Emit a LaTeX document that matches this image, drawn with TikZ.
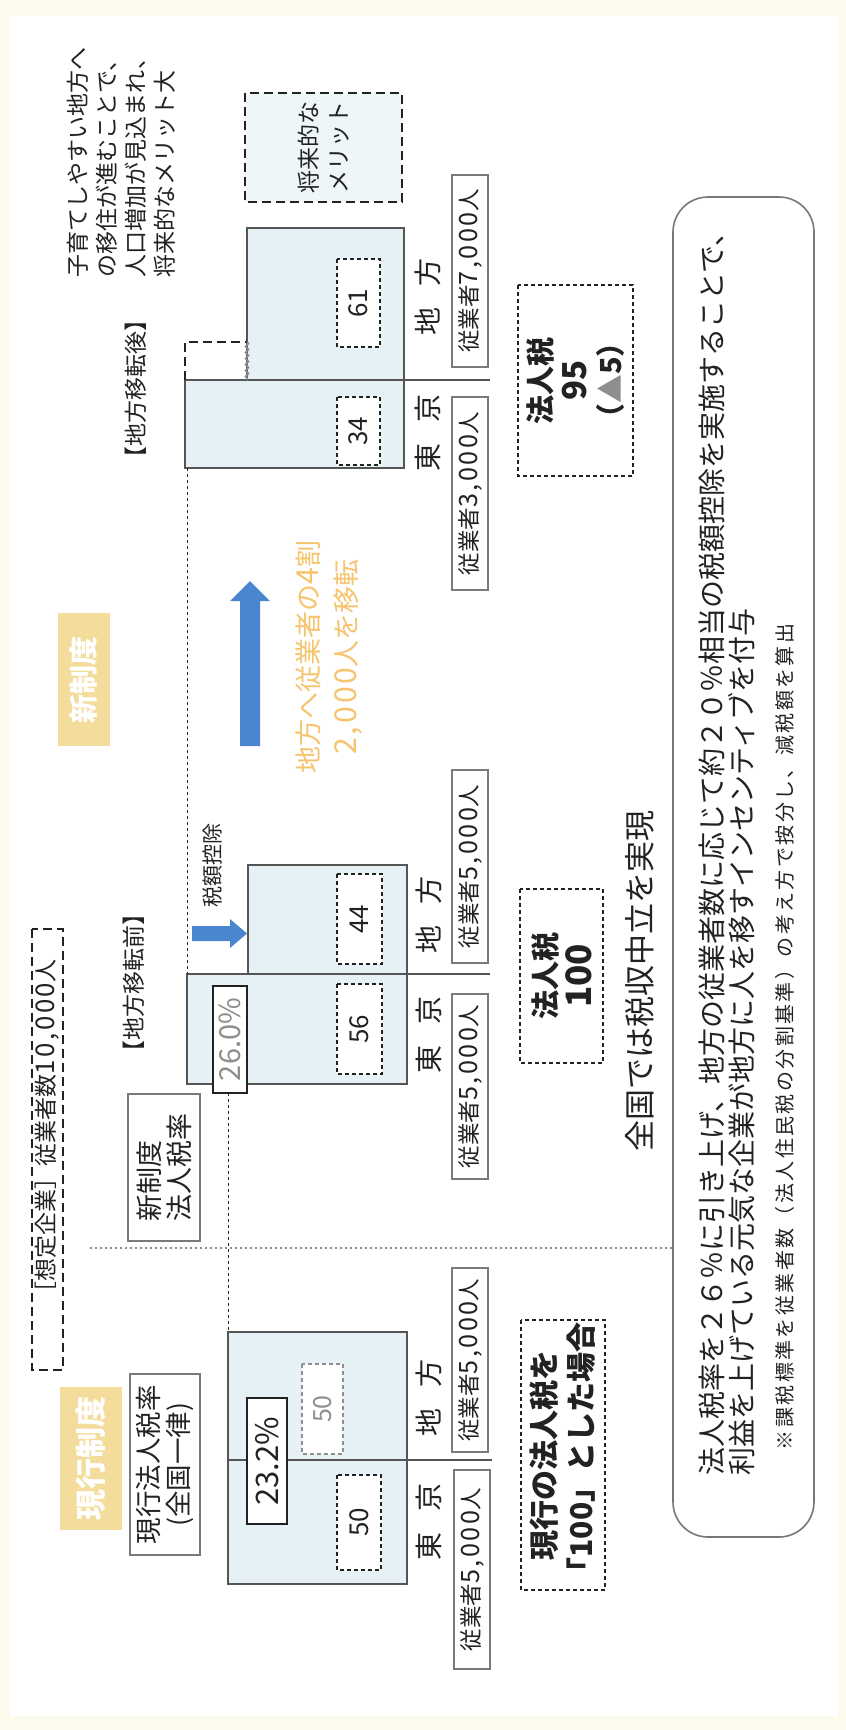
\documentclass[tikz,border=0pt]{standalone}
\usepackage{fontspec}
\setmainfont{Noto Sans CJK JP}
\usetikzlibrary{decorations.pathmorphing}
\definecolor{pagecream}{HTML}{FCFAEC}
\definecolor{beige}{HTML}{F4DC9C}
\definecolor{ink}{HTML}{222222}
\definecolor{barfill}{HTML}{E5F1F4}
\definecolor{barline}{HTML}{555555}
\definecolor{boxgray}{HTML}{7A7A7A}
\definecolor{lightblue}{HTML}{EEF6F8}
\definecolor{arrowblue}{HTML}{4A86CF}
\definecolor{orangeT}{HTML}{F6C46E}
\definecolor{grayT}{HTML}{8E8E8E}
\definecolor{roundgray}{HTML}{777777}
\newcommand\myfs[1]{\fontsize{#1pt}{#1pt}\selectfont}
\newcommand\dg[1]{{\addfontfeatures{LetterSpace=10,Scale=1.12}#1}}
\begin{document}
\begin{tikzpicture}[x=1pt,y=-1pt,
  rt/.style={rotate=90, inner sep=0pt, outer sep=0pt, text=ink},
  beigebox/.style={rt, fill=beige, text=white},
  box/.style={rt, draw=boxgray, line width=1.5pt, fill=white},
  darkbox/.style={rt, draw=ink, line width=2pt, fill=white},
  ebox/.style={box, minimum height=36pt, font=\myfs{22.5}},
  thindash/.style={rt, draw=ink, line width=1.3pt, dash pattern=on 4pt off 3pt},
  thickdash/.style={rt, draw=ink, line width=2.4pt, dash pattern=on 9pt off 5pt},
  vbox/.style={thindash, fill=white, font=\myfs{26}},
  bar/.style={draw=barline, line width=2pt, fill=barfill, inner sep=0pt, outer sep=0pt},
  lbl/.style={rt, font=\myfs{28}},
  divider/.style={draw=barline, line width=1.5pt},
  connline/.style={draw=ink, line width=1pt, dash pattern=on 3pt off 3pt},
  dotline/.style={draw=grayT, line width=1.6pt, dash pattern=on 2pt off 3pt},
  wavy/.style={draw=grayT, line width=1.5pt, decorate, decoration={zigzag, segment length=6pt, amplitude=1.5pt}}
]
\useasboundingbox (0,0) rectangle (846,1730);
\fill[pagecream] (0,0) rectangle (846,1730);
\fill[white] (10,16) rectangle (838,1716);

% ---------- titles and left column ----------
\node[beigebox, minimum width=143pt, minimum height=62pt, font=\bfseries\myfs{31}] (curTitle) at (91,1458.5) {現行制度};
\node[beigebox, minimum width=133pt, minimum height=52pt, font=\bfseries\myfs{29}] (newTitle) at (84,679.5) {新制度};

\node[thickdash, minimum width=441pt, minimum height=31pt] (assume) at (47.5,1149.5) {};
\node[rt, font=\myfs{23}] (assumeTxt) at (47.5,1132) {［想定企業］従業者数\dg{10,000}人};

\node[box, minimum width=181pt, minimum height=70pt, align=center, font=\fontsize{26.5pt}{30pt}\selectfont] (curRate) at (165,1464.5) {現行法人税率\\(全国一律)};
\node[box, minimum width=147pt, minimum height=72pt, align=left, font=\fontsize{27pt}{30pt}\selectfont] (newRate) at (164,1167.5) {新制度\\法人税率};

\node[rt, font=\myfs{23}] (beforeTtl) at (134,983) {【地方移転前】};
\node[rt, font=\myfs{23}] (afterTtl) at (136,389) {【地方移転後】};

% ---------- current system ----------
\node[bar, minimum width=179pt, minimum height=128pt] (curL) at (317.5,1396) {};
\node[bar, minimum width=179pt, minimum height=124pt] (curT) at (317.5,1522) {};
\draw[divider] (curL.south west) -- ([xshift=85pt]curL.south east);
\node[darkbox, minimum width=126pt, minimum height=40pt, font=\myfs{31}] (r232) at (267,1461) {23.2\%};
\node[vbox, draw=grayT, text=grayT, minimum width=90pt, minimum height=41pt, font=\myfs{25}] (v50L) at (322.5,1409) {50};
\node[vbox, minimum width=95pt, minimum height=44pt] (v50T) at (359,1522.5) {50};
\node[lbl] (curLlbl) at (429,1398) {地\hspace{0.75em}方};
\node[lbl] (curTlbl) at (429,1522) {東\hspace{0.75em}京};
\node[ebox, minimum width=184pt] (curLemp) at (470,1360) {従業者\dg{5,000}人};
\node[ebox, minimum width=199pt] (curTemp) at (472,1569.5) {従業者\dg{5,000}人};
\node[thindash, minimum width=270pt, minimum height=84pt, align=center, font=\bfseries\fontsize{30pt}{37pt}\selectfont] (base100) at (563,1455) {現行の法人税を\\「100」とした場合};

% ---------- new system: before ----------
\node[bar, minimum width=220pt, minimum height=110pt] (bfT) at (297,1029) {};
\node[bar, minimum width=159pt, minimum height=109pt] (bfL) at (327.5,919.5) {};
\draw[divider] (bfT.north west) -- ([xshift=83pt]bfT.north east);
\node[darkbox, text=grayT, minimum width=107pt, minimum height=34pt, font=\myfs{29}] (r260) at (230,1039.5) {26.0\%};
\node[vbox, minimum width=90pt, minimum height=45pt] (v56) at (359.5,1029) {56};
\node[vbox, minimum width=90pt, minimum height=45pt] (v44) at (359.5,919) {44};
\node[lbl] (bfLlbl) at (429,915) {地\hspace{0.75em}方};
\node[lbl] (bfTlbl) at (429,1035) {東\hspace{0.75em}京};
\node[ebox, minimum width=193pt] (bfLemp) at (470,866.5) {従業者\dg{5,000}人};
\node[ebox, minimum width=185pt] (bfTemp) at (470,1086.5) {従業者\dg{5,000}人};
\fill[arrowblue] (192,926) -- (230,926) -- (230,919) -- (247,933.5) -- (230,948) -- (230,941) -- (192,941) -- cycle;
\node[rt, font=\myfs{21}] (credit) at (213,865) {税額控除};
\node[thindash, minimum width=174pt, minimum height=83pt, align=center, font=\bfseries\fontsize{29pt}{35pt}\selectfont] (tax100) at (561.5,976) {法人税\\\fontsize{35pt}{35pt}\selectfont 100};
\node[rt, font=\myfs{31}] (neutral) at (640,981) {全国では税収中立を実現};

% ---------- new system: after ----------
\node[bar, minimum width=219pt, minimum height=88pt] (afT) at (294.5,424) {};
\node[bar, minimum width=157pt, minimum height=152pt] (afL) at (325.5,304) {};
\draw[divider] (afT.north west) -- ([xshift=86pt]afT.north east);
\coordinate (g1) at (185,342);
\coordinate (g2) at (247,342);
\draw[thickdash] (afT.north west) -- (g1) -- (g2);
\draw[wavy] (g2) -- (afL.south west);
\node[vbox, minimum width=68pt, minimum height=43pt] (v34) at (358.5,431) {34};
\node[vbox, minimum width=88pt, minimum height=43pt] (v61) at (358.5,303) {61};
\node[lbl] (afLlbl) at (428,297) {地\hspace{0.75em}方};
\node[lbl] (afTlbl) at (428,433) {東\hspace{0.75em}京};
\node[ebox, minimum width=192pt] (afLemp) at (470,271) {従業者\dg{7,000}人};
\node[ebox, minimum width=193pt] (afTemp) at (470,493.5) {従業者\dg{3,000}人};
\node[thindash, minimum width=191pt, minimum height=115pt, align=center, font=\bfseries\fontsize{29pt}{35pt}\selectfont] (tax95) at (575.5,380.5) {法人税\\\fontsize{33pt}{35pt}\selectfont 95\\\fontsize{29pt}{35pt}\selectfont （{\color{grayT}▲}5）};

% ---------- transfer arrow and text ----------
\fill[arrowblue] (240,746) -- (260,746) -- (260,601) -- (270,601) -- (250,581) -- (230,601) -- (240,601) -- cycle;
\node[rt, align=center, text=orangeT, font=\fontsize{27pt}{38pt}\selectfont] (moveTxt) at (329,657) {地方へ従業者の\dg{4}割\\\dg{2,000}人を移転};

% ---------- merits ----------
\node[thickdash, fill=lightblue, minimum width=109pt, minimum height=157pt, align=center, font=\fontsize{23pt}{30pt}\selectfont] (merit) at (323.5,147.5) {将来的な\\メリット};
\node[rt, anchor=west, align=left, font=\fontsize{23pt}{29pt}\selectfont] (future) at (121.5,277) {子育てしやすい地方へ\\の移住が進むことで、\\人口増加が見込まれ、\\将来的なメリット大};

% ---------- connectors ----------
\draw[connline] (bfT.north west |- afT.south west) -- (bfT.north west);
\draw[connline] (curL.north west |- r260.west) -- (curL.north west);

% ---------- note box ----------
\node[draw=roundgray, line width=1.6pt, rounded corners=35pt, minimum width=141pt, minimum height=1340pt, inner sep=0pt] (note) at (743.5,867) {};
\coordinate (dv1) at (90,1248);
\draw[dotline] (dv1) -- (note.west |- dv1);
\node[rt, anchor=west, font=\myfs{28}] (l1) at (712,1475) {法人税率を２６％に引き上げ、地方の従業者数に応じて約２０％相当の税額控除を実施することで、};
\node[rt, anchor=west, font=\myfs{28}] (l2) at (742,1475) {利益を上げている元気な企業が地方に人を移すインセンティブを付与};
\node[rt, anchor=west, font=\myfs{20}\addfontfeatures{LetterSpace=12}] (l3) at (785,1450) {※課税標準を従業者数（法人住民税の分割基準）の考え方で按分し、減税額を算出};
\end{tikzpicture}
\end{document}
